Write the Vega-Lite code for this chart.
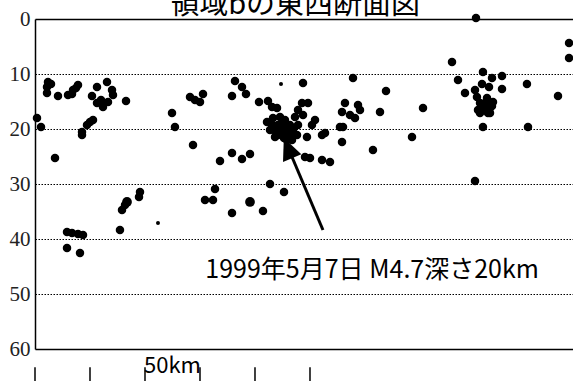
{
  "$schema": "https://vega.github.io/schema/vega-lite/v6.json",
  "width": 538,
  "height": 330,
  "autosize": {"type": "none"},
  "padding": {"left": 35, "top": 19, "right": 0, "bottom": 32},
  "background": "white",
  "config": {"view": {"stroke": null}},
  "datasets": {
    "quakes": [
      {"x": 2.36, "d": 11.45, "m": 2}, {"x": 2.18, "d": 12.36, "m": 2}, {"x": 2.18, "d": 13.45, "m": 2}, {"x": 2.91, "d": 11.82, "m": 2},
      {"x": 4.18, "d": 14.0, "m": 2}, {"x": 6.0, "d": 13.82, "m": 2}, {"x": 6.91, "d": 12.91, "m": 2}, {"x": 7.82, "d": 12.0, "m": 2},
      {"x": 6.73, "d": 13.64, "m": 2}, {"x": 7.45, "d": 12.55, "m": 2}, {"x": 11.27, "d": 12.36, "m": 2}, {"x": 13.09, "d": 11.45, "m": 2},
      {"x": 10.36, "d": 14.0, "m": 2}, {"x": 11.27, "d": 15.27, "m": 2}, {"x": 12.36, "d": 16.0, "m": 2}, {"x": 13.27, "d": 15.09, "m": 2},
      {"x": 14.18, "d": 13.82, "m": 2}, {"x": 14.0, "d": 12.91, "m": 2}, {"x": 12.0, "d": 14.73, "m": 2}, {"x": 16.55, "d": 14.91, "m": 2},
      {"x": 0.36, "d": 18.0, "m": 2}, {"x": 1.09, "d": 19.64, "m": 2}, {"x": 8.55, "d": 20.55, "m": 2}, {"x": 9.45, "d": 19.27, "m": 2},
      {"x": 10.55, "d": 18.36, "m": 2}, {"x": 8.55, "d": 21.09, "m": 2}, {"x": 10.0, "d": 18.73, "m": 2}, {"x": 3.64, "d": 25.27, "m": 2},
      {"x": 5.82, "d": 38.73, "m": 2}, {"x": 6.73, "d": 38.91, "m": 2}, {"x": 7.82, "d": 39.09, "m": 2}, {"x": 8.73, "d": 39.27, "m": 2},
      {"x": 5.82, "d": 41.64, "m": 2}, {"x": 8.18, "d": 42.55, "m": 2}, {"x": 15.45, "d": 38.36, "m": 2}, {"x": 15.82, "d": 34.73, "m": 2},
      {"x": 16.36, "d": 33.82, "m": 2}, {"x": 16.73, "d": 33.27, "m": 3}, {"x": 19.09, "d": 31.45, "m": 2}, {"x": 18.91, "d": 32.36, "m": 2},
      {"x": 22.36, "d": 37.09, "m": 1}, {"x": 24.91, "d": 17.09, "m": 2}, {"x": 25.45, "d": 19.64, "m": 2}, {"x": 28.73, "d": 22.91, "m": 2},
      {"x": 28.18, "d": 14.18, "m": 2}, {"x": 29.09, "d": 14.73, "m": 2}, {"x": 30.0, "d": 15.09, "m": 2}, {"x": 30.55, "d": 13.64, "m": 2},
      {"x": 36.36, "d": 11.27, "m": 2}, {"x": 37.64, "d": 12.36, "m": 2}, {"x": 38.36, "d": 13.64, "m": 2}, {"x": 35.82, "d": 14.0, "m": 2},
      {"x": 33.64, "d": 25.82, "m": 2}, {"x": 35.82, "d": 24.36, "m": 2}, {"x": 37.64, "d": 25.45, "m": 2}, {"x": 39.09, "d": 24.55, "m": 2},
      {"x": 32.73, "d": 30.91, "m": 2}, {"x": 30.91, "d": 32.91, "m": 2}, {"x": 32.36, "d": 32.91, "m": 2}, {"x": 39.09, "d": 33.27, "m": 3},
      {"x": 35.82, "d": 35.27, "m": 2}, {"x": 41.45, "d": 34.91, "m": 2}, {"x": 42.73, "d": 30.0, "m": 2}, {"x": 45.27, "d": 31.45, "m": 2},
      {"x": 44.73, "d": 11.82, "m": 1}, {"x": 48.73, "d": 11.64, "m": 2}, {"x": 57.82, "d": 10.73, "m": 2},
      {"x": 40.73, "d": 15.09, "m": 2}, {"x": 42.36, "d": 14.91, "m": 2}, {"x": 43.09, "d": 16.0, "m": 2}, {"x": 44.0, "d": 16.18, "m": 2},
      {"x": 48.55, "d": 15.27, "m": 2}, {"x": 49.64, "d": 15.27, "m": 2}, {"x": 47.82, "d": 16.55, "m": 2}, {"x": 48.73, "d": 17.45, "m": 2},
      {"x": 47.27, "d": 17.82, "m": 2}, {"x": 56.36, "d": 15.27, "m": 2}, {"x": 55.82, "d": 16.91, "m": 2}, {"x": 57.27, "d": 17.45, "m": 2},
      {"x": 58.18, "d": 18.0, "m": 2}, {"x": 58.73, "d": 15.64, "m": 2}, {"x": 59.09, "d": 16.55, "m": 2}, {"x": 62.73, "d": 16.91, "m": 2},
      {"x": 42.18, "d": 18.73, "m": 2}, {"x": 43.27, "d": 18.0, "m": 2}, {"x": 44.55, "d": 17.82, "m": 2}, {"x": 45.09, "d": 18.73, "m": 2},
      {"x": 44.0, "d": 19.82, "m": 2}, {"x": 44.91, "d": 20.55, "m": 2}, {"x": 43.64, "d": 21.45, "m": 2}, {"x": 45.82, "d": 21.09, "m": 2},
      {"x": 46.36, "d": 19.27, "m": 2}, {"x": 46.91, "d": 20.18, "m": 2}, {"x": 47.82, "d": 19.27, "m": 2}, {"x": 47.64, "d": 21.09, "m": 2},
      {"x": 45.82, "d": 22.0, "m": 2}, {"x": 42.73, "d": 20.18, "m": 2}, {"x": 44.18, "d": 19.27, "m": 2}, {"x": 45.45, "d": 19.64, "m": 2},
      {"x": 44.55, "d": 19.27, "m": 2}, {"x": 45.45, "d": 18.36, "m": 2}, {"x": 44.18, "d": 21.09, "m": 2}, {"x": 46.36, "d": 21.09, "m": 2},
      {"x": 45.27, "d": 21.64, "m": 2}, {"x": 43.09, "d": 19.27, "m": 2}, {"x": 45.64, "d": 20.18, "m": 2}, {"x": 44.55, "d": 19.82, "m": 2},
      {"x": 43.82, "d": 20.55, "m": 2}, {"x": 46.73, "d": 22.0, "m": 2},
      {"x": 50.91, "d": 18.36, "m": 2}, {"x": 50.36, "d": 19.27, "m": 2}, {"x": 49.45, "d": 21.45, "m": 2}, {"x": 52.18, "d": 21.09, "m": 2},
      {"x": 52.73, "d": 20.73, "m": 2}, {"x": 55.45, "d": 19.64, "m": 2}, {"x": 56.0, "d": 19.64, "m": 2}, {"x": 55.82, "d": 22.36, "m": 2},
      {"x": 49.09, "d": 25.09, "m": 2}, {"x": 50.0, "d": 25.27, "m": 2}, {"x": 52.18, "d": 25.64, "m": 2}, {"x": 53.64, "d": 26.0, "m": 2},
      {"x": 61.45, "d": 23.82, "m": 2},
      {"x": 63.82, "d": 13.09, "m": 2}, {"x": 68.55, "d": 21.45, "m": 2}, {"x": 70.55, "d": 16.18, "m": 2}, {"x": 75.82, "d": 7.82, "m": 2},
      {"x": 76.91, "d": 11.09, "m": 2}, {"x": 81.45, "d": 9.64, "m": 2}, {"x": 83.09, "d": 10.73, "m": 2}, {"x": 84.91, "d": 10.36, "m": 2},
      {"x": 81.27, "d": 11.82, "m": 2}, {"x": 82.55, "d": 12.36, "m": 2}, {"x": 84.91, "d": 12.73, "m": 2}, {"x": 89.45, "d": 11.82, "m": 2},
      {"x": 78.18, "d": 13.45, "m": 2}, {"x": 80.0, "d": 12.91, "m": 2}, {"x": 80.36, "d": 14.18, "m": 2}, {"x": 80.91, "d": 15.27, "m": 2},
      {"x": 81.45, "d": 16.18, "m": 2}, {"x": 82.73, "d": 16.18, "m": 2}, {"x": 83.27, "d": 15.09, "m": 2}, {"x": 82.18, "d": 14.36, "m": 2},
      {"x": 80.55, "d": 16.55, "m": 2}, {"x": 82.36, "d": 17.09, "m": 2}, {"x": 81.64, "d": 15.64, "m": 2}, {"x": 81.45, "d": 19.64, "m": 2},
      {"x": 81.82, "d": 15.27, "m": 2}, {"x": 82.73, "d": 17.09, "m": 2}, {"x": 80.91, "d": 17.09, "m": 2}, {"x": 81.82, "d": 16.18, "m": 2},
      {"x": 83.09, "d": 15.82, "m": 2},
      {"x": 89.64, "d": 19.64, "m": 2}, {"x": 95.09, "d": 14.0, "m": 2}, {"x": 97.1, "d": 4.36, "m": 2}, {"x": 97.1, "d": 7.09, "m": 2},
      {"x": 80.18, "d": -0.18, "m": 2}, {"x": 80.0, "d": 29.45, "m": 2}
    ],
    "scalebar": [{"km": 0}, {"km": 10}, {"km": 20}, {"km": 30}, {"km": 40}, {"km": 50}],
    "labels": [
      {"text": "50km", "x": 25, "d": 64.36, "size": 22},
      {"text": "1999年5月7日 M4.7深さ20km", "x": 61.3, "d": 47.1, "size": 25}
    ],
    "title": [{"text": "領域bの東西断面図", "x": 47.3, "d": -0.91}],
    "arrow": [{"x": 52.36, "d": 38.36, "x2": 46.73, "d2": 25.09, "hx": 46.0, "hd": 23.45}]
  },
  "layer": [
    {
      "data": {"name": "quakes"},
      "mark": {"type": "circle", "color": "black", "opacity": 1},
      "encoding": {
        "x": {"field": "x", "type": "quantitative", "scale": {"domain": [0, 97.82], "nice": false, "zero": false}, "axis": null},
        "y": {"field": "d", "type": "quantitative", "scale": {"domain": [0, 60], "nice": false, "reverse": true},
          "axis": {"values": [0, 10, 20, 30, 40, 50, 60], "title": null, "ticks": false, "labelPadding": 5,
            "labelFont": "Liberation Serif", "labelFontSize": 21, "labelColor": "#222",
            "domainColor": "black", "domainWidth": 1.5,
            "grid": true, "gridColor": "black", "gridOpacity": 1,
            "gridDash": {"condition": {"test": "datum.value === 0 || datum.value === 60", "value": []}, "value": [1.5, 1.5]},
            "gridWidth": {"condition": {"test": "datum.value === 0 || datum.value === 60", "value": 1.5}, "value": 1}}},
        "size": {"field": "m", "type": "quantitative", "scale": {"type": "linear", "domain": [1, 2, 3], "range": [16, 72, 95]}, "legend": null}
      }
    },
    {
      "data": {"name": "scalebar"},
      "mark": {"type": "rule", "color": "black", "strokeWidth": 1.5},
      "encoding": {
        "x": {"field": "km", "type": "quantitative"},
        "y": {"datum": 63.3, "type": "quantitative"},
        "y2": {"datum": 66.5}
      }
    },
    {
      "data": {"name": "labels"},
      "mark": {"type": "text", "color": "black", "align": "center", "baseline": "alphabetic", "font": "Noto Sans CJK JP"},
      "encoding": {
        "x": {"field": "x", "type": "quantitative"},
        "y": {"field": "d", "type": "quantitative"},
        "text": {"field": "text"},
        "size": {"field": "size", "type": "quantitative", "scale": null}
      }
    },
    {
      "data": {"name": "title"},
      "mark": {"type": "text", "color": "black", "align": "center", "baseline": "alphabetic", "font": "Noto Sans CJK JP", "fontSize": 29},
      "encoding": {
        "x": {"field": "x", "type": "quantitative"},
        "y": {"field": "d", "type": "quantitative"},
        "text": {"field": "text"}
      }
    },
    {
      "data": {"name": "arrow"},
      "mark": {"type": "rule", "color": "black", "strokeWidth": 3},
      "encoding": {
        "x": {"field": "x", "type": "quantitative"},
        "y": {"field": "d", "type": "quantitative"},
        "x2": {"field": "x2"},
        "y2": {"field": "d2"}
      }
    },
    {
      "data": {"name": "arrow"},
      "mark": {"type": "point", "shape": "M0,-1L0.9,1L-0.9,1Z", "filled": true, "color": "black", "opacity": 1, "size": 484, "angle": -22.4},
      "encoding": {
        "x": {"field": "hx", "type": "quantitative"},
        "y": {"field": "hd", "type": "quantitative"}
      }
    }
  ]
}
